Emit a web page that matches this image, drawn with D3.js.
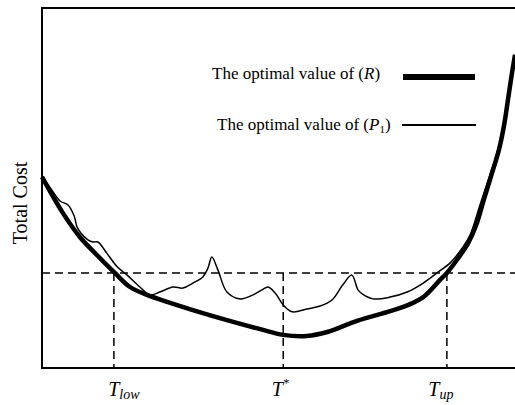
<!DOCTYPE html>
<html>
  <head>
    <style>
      body { margin: 0; background: #fff; }
      text { font-family: "Liberation Serif", "DejaVu Serif", serif; fill: #000; }
    </style>
  </head>
  <body>
    <svg></svg>
    <script src="https://d3js.org/d3.v7.min.js"></script>
    <script type="text/javascript">

      // cost of problem (R) and (P1) against T (arbitrary units 0-10)
      var rT    = [0.00, 0.44, 0.80, 1.16, 1.54, 1.86, 2.22, 2.71, 3.19, 3.91, 4.61, 5.10, 5.60, 6.03, 6.66, 7.36, 7.72, 8.06, 8.41, 8.56, 8.77, 9.01, 9.18, 9.34, 9.51, 9.66, 9.77, 9.85, 9.93, 10.00]
      var rCost = [5.31, 4.31, 3.64, 3.14, 2.64, 2.25, 2.03, 1.81, 1.61, 1.33, 1.08, 0.92, 0.89, 1.00, 1.31, 1.58, 1.74, 1.97, 2.44, 2.64, 3.00, 3.47, 3.97, 4.67, 5.40, 6.06, 6.75, 7.44, 8.14, 8.70]

      var pT    = [0.00, 0.21, 0.38, 0.55, 0.68, 0.74, 0.82, 0.97, 1.08, 1.18, 1.37, 1.59, 1.80, 2.07, 2.28, 2.49, 2.77, 2.98, 3.19, 3.40, 3.51, 3.59, 3.72, 3.91, 4.19, 4.46, 4.65, 4.78, 4.93, 5.10, 5.29, 5.60, 5.88, 6.13, 6.36, 6.55, 6.68, 6.77, 7.00, 7.36, 7.72, 8.06, 8.35, 8.63, 8.90, 9.05, 9.26, 9.47, 9.64, 9.76, 9.84, 9.93, 10.00]
      var pCost = [5.31, 4.94, 4.64, 4.53, 4.22, 3.92, 3.75, 3.56, 3.50, 3.50, 3.19, 2.81, 2.58, 2.25, 2.03, 2.11, 2.25, 2.22, 2.36, 2.53, 2.78, 3.08, 2.72, 2.11, 1.92, 2.03, 2.17, 2.25, 2.08, 1.75, 1.56, 1.64, 1.72, 1.89, 2.31, 2.58, 2.17, 2.06, 1.92, 1.97, 2.11, 2.36, 2.64, 2.92, 3.36, 3.69, 4.53, 5.36, 6.06, 6.75, 7.44, 8.14, 8.70]

      var costLevel = 2.64
      var tMarks = [
        { t: 1.52, sub: "low", sup: null },
        { t: 5.10, sub: null, sup: "*" },
        { t: 8.56, sub: "up", sup: null }
      ]
      // small horizontal nudges of the T labels (px)
      var labelDx = [10, -3, -6]

      var svgWidth = 515, svgHeight = 405
      var margin = { top: 8, right: 0, bottom: 37, left: 42 }
      var width = svgWidth - margin.left - margin.right
      var height = svgHeight - margin.top - margin.bottom

      var svg = d3.select("svg")
        .attr("width", svgWidth)
        .attr("height", svgHeight)

      var g = svg.append("g")
        .attr("transform", "translate(" + margin.left + "," + margin.top + ")")

      var x = d3.scaleLinear().domain([0, 10]).range([0, width])
      var y = d3.scaleLinear().domain([0, 10]).range([height, 0])

      // frame: left, top, bottom
      g.append("path")
        .attr("d", "M" + width + ",0H0V" + height + "H" + width)
        .attr("fill", "none")
        .attr("stroke", "#000")
        .attr("stroke-width", 2)

      // dashed guides
      g.append("line")
        .attr("x1", 0).attr("x2", width)
        .attr("y1", y(costLevel)).attr("y2", y(costLevel))
        .attr("stroke", "#000")
        .attr("stroke-width", 1.5)
        .attr("stroke-dasharray", "8,5")

      g.selectAll(".vguide")
        .data(tMarks)
        .enter().append("line")
        .attr("class", "vguide")
        .attr("x1", d => x(d.t)).attr("x2", d => x(d.t))
        .attr("y1", y(costLevel)).attr("y2", height)
        .attr("stroke", "#000")
        .attr("stroke-width", 1.5)
        .attr("stroke-dasharray", "8,5")

      var line = d3.line()
        .x(d => x(d[0]))
        .y(d => y(d[1]))
        .curve(d3.curveCatmullRom.alpha(0.5))

      g.append("path")
        .attr("d", line(d3.zip(rT, rCost)))
        .attr("fill", "none")
        .attr("stroke", "#000")
        .attr("stroke-width", 4.5)

      g.append("path")
        .attr("d", line(d3.zip(pT, pCost)))
        .attr("fill", "none")
        .attr("stroke", "#000")
        .attr("stroke-width", 1.5)

      // T labels under the axis
      var tl = g.selectAll(".tlabel")
        .data(tMarks)
        .enter().append("text")
        .attr("class", "tlabel")
        .attr("x", (d, i) => x(d.t) + labelDx[i])
        .attr("y", height + 28)
        .attr("text-anchor", "middle")
        .attr("font-size", 20)
        .attr("font-style", "italic")
      tl.append("tspan").text("T")
      tl.filter(d => d.sub).append("tspan")
        .attr("font-size", 14).attr("dy", 3)
        .text(d => d.sub)
      tl.filter(d => d.sup).append("tspan")
        .attr("font-size", 12).attr("dy", -9)
        .text(d => d.sup)

      // y axis title
      svg.append("text")
        .attr("transform", "translate(27,203) rotate(-90)")
        .attr("text-anchor", "middle")
        .attr("font-size", 20)
        .text("Total Cost")

      // legend
      var legend = g.append("g")
      var l1 = legend.append("text").attr("x", 170).attr("y", 71).attr("font-size", 17)
      l1.append("tspan").text("The optimal value of (")
      l1.append("tspan").attr("font-style", "italic").text("R")
      l1.append("tspan").text(")")
      legend.append("line")
        .attr("x1", 361).attr("x2", 433).attr("y1", 69).attr("y2", 69)
        .attr("stroke", "#000").attr("stroke-width", 6)

      var l2 = legend.append("text").attr("x", 175).attr("y", 122).attr("font-size", 17)
      l2.append("tspan").text("The optimal value of (")
      l2.append("tspan").attr("font-style", "italic").text("P")
      l2.append("tspan").attr("font-size", 11).attr("dy", 3).text("1")
      l2.append("tspan").attr("dy", -3).text(")")
      legend.append("line")
        .attr("x1", 360).attr("x2", 434).attr("y1", 117).attr("y2", 117)
        .attr("stroke", "#000").attr("stroke-width", 2)

    </script>
  </body>
</html>
